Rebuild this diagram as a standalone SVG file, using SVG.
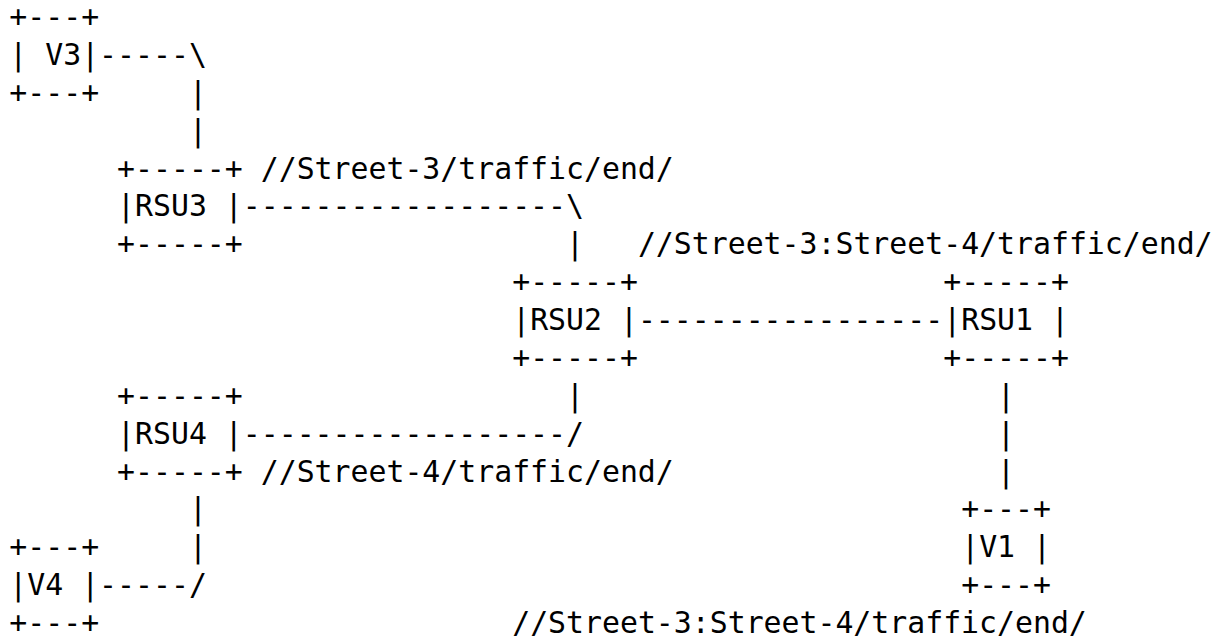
<svg xmlns="http://www.w3.org/2000/svg" width="1226" height="640" viewBox="0 0 1226 640">
<style>
text{font-family:"DejaVu Sans Mono","Liberation Mono",monospace;font-size:29.83px;fill:#000;white-space:pre}
</style>
<rect width="1226" height="640" fill="#fff"/>
<g id="V3">
<text x="9.3" y="27.1">+---+</text>
<text x="9.3" y="64.98">| V3|</text>
<text x="9.3" y="102.85">+---+</text>
</g>
<g id="RSU3">
<text x="117.06" y="178.6">+-----+</text>
<text x="117.06" y="216.48">|RSU3 |</text>
<text x="117.06" y="254.35">+-----+</text>
</g>
<g id="RSU2">
<text x="512.18" y="292.23">+-----+</text>
<text x="512.18" y="330.1">|RSU2 |</text>
<text x="512.18" y="367.98">+-----+</text>
</g>
<g id="RSU1">
<text x="943.22" y="292.23">+-----+</text>
<text x="943.22" y="330.1">|RSU1 |</text>
<text x="943.22" y="367.98">+-----+</text>
</g>
<g id="RSU4">
<text x="117.06" y="405.85">+-----+</text>
<text x="117.06" y="443.73">|RSU4 |</text>
<text x="117.06" y="481.6">+-----+</text>
</g>
<g id="V1">
<text x="961.18" y="519.48">+---+</text>
<text x="961.18" y="557.35">|V1 |</text>
<text x="961.18" y="595.23">+---+</text>
</g>
<g id="V4">
<text x="9.3" y="557.35">+---+</text>
<text x="9.3" y="595.23">|V4 |</text>
<text x="9.3" y="633.1">+---+</text>
</g>
<g id="connectors">
<text x="99.1" y="64.98">-----\</text>
<text x="188.9" y="102.85">|</text>
<text x="188.9" y="140.73">|</text>
<text x="242.78" y="216.48">------------------\</text>
<text x="566.06" y="254.35">|</text>
<text x="637.9" y="330.1">-----------------</text>
<text x="566.06" y="405.85">|</text>
<text x="997.1" y="405.85">|</text>
<text x="242.78" y="443.73">------------------/</text>
<text x="997.1" y="443.73">|</text>
<text x="997.1" y="481.6">|</text>
<text x="188.9" y="519.48">|</text>
<text x="188.9" y="557.35">|</text>
<text x="99.1" y="595.23">-----/</text>
</g>
<g id="labels">
<text x="260.74" y="178.6">//Street-3/traffic/end/</text>
<text x="637.9" y="254.35">//Street-3:Street-4/traffic/end/</text>
<text x="260.74" y="481.6">//Street-4/traffic/end/</text>
<text x="512.18" y="633.1">//Street-3:Street-4/traffic/end/</text>
</g>
</svg>
